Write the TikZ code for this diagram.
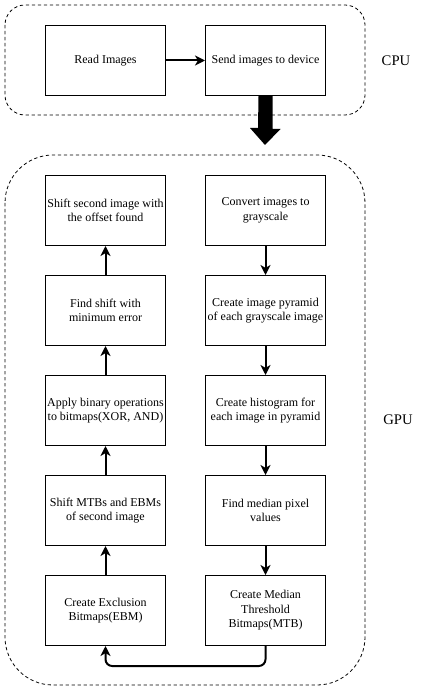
\documentclass[tikz,border=0pt]{standalone}
\usepackage{fontspec}
\setmainfont{Liberation Serif}
\usetikzlibrary{arrows.meta,positioning}
\begin{document}
\begin{tikzpicture}[x=0.75pt,y=-0.75pt,
  stepbox/.style={draw,line width=0.75pt,minimum width=90pt,minimum height=52.5pt,inner sep=0pt,align=center,font=\fontsize{9}{10.9}\selectfont,anchor=north west},
  conn/.style={line width=1.5pt,-{Stealth[length=7.5pt,width=7.5pt,inset=2.2pt]}},
  group/.style={draw,dashed,line width=0.6pt,dash pattern=on 2.5pt off 2pt},
  lbl/.style={font=\fontsize{11}{13}\selectfont}]
\useasboundingbox (0,0) rectangle (426,691);
% containers
\draw[group,rounded corners=15pt] (5,5) rectangle (365,115);
\draw[group,rounded corners=36pt] (5,155) rectangle (365,685);
\node[lbl] (cpu) at (396,61) {CPU};
\node[lbl] (gpu) at (398,420) {GPU};
% CPU boxes
\node[stepbox] (read) at (45,25) {Read Images};
\node[stepbox] (send) at (205,25) {Send images to device};
% GPU right column
\node[stepbox] (gray) at (205,175) {Convert images to\\grayscale};
\node[stepbox] (pyr) at (205,275) {Create image pyramid\\of each grayscale image};
\node[stepbox] (hist) at (205,375) {Create histogram for\\each image in pyramid};
\node[stepbox] (med) at (205,475) {Find median pixel\\values};
\node[stepbox] (mtb) at (205,575) {Create Median\\Threshold\\Bitmaps(MTB)};
% GPU left column
\node[stepbox] (shift2) at (45,175) {Shift second image with\\the offset found};
\node[stepbox] (find) at (45,275) {Find shift with\\minimum error};
\node[stepbox] (bin) at (45,375) {Apply binary operations\\to bitmaps(XOR, AND)};
\node[stepbox] (shiftm) at (45,475) {Shift MTBs and EBMs\\of second image};
\node[stepbox] (ebm) at (45,575) {Create Exclusion\\Bitmaps(EBM)};
% connectors
\draw[conn] (read) -- (send);
\draw[conn] (gray) -- (pyr);
\draw[conn] (pyr) -- (hist);
\draw[conn] (hist) -- (med);
\draw[conn] (med) -- (mtb);
\draw[conn] (ebm) -- (shiftm);
\draw[conn] (shiftm) -- (bin);
\draw[conn] (bin) -- (find);
\draw[conn] (find) -- (shift2);
\draw[conn,rounded corners=5pt] (mtb.south) -- ++(0,20) -| (ebm.south);
% big arrow
\coordinate (bigtip) at (265,145);
\fill (send.south) ++(-7,0) -- ++(14,0) -- ++(0,33) -- ++(8,0) -- (bigtip) -- (250,128) -- (258,128) -- cycle;
\end{tikzpicture}
\end{document}
